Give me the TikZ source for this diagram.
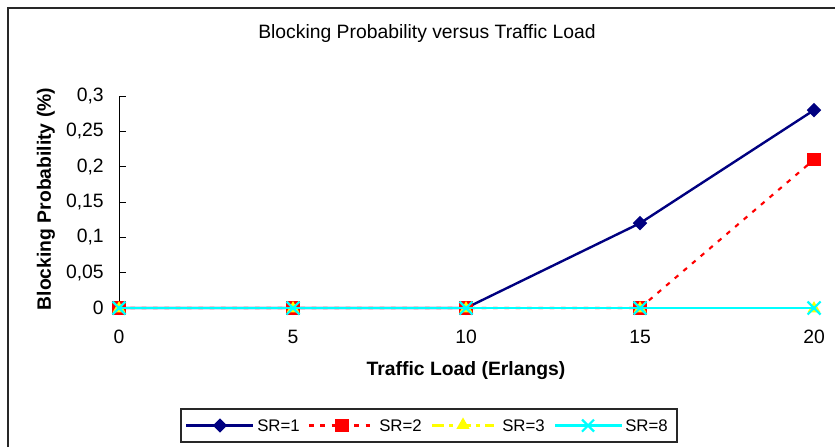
\documentclass[tikz,border=0pt]{standalone}
\usepackage{fontspec}
\setmainfont{Liberation Sans}
\usetikzlibrary{shapes.geometric}
\definecolor{navyline}{RGB}{0,0,128}
\definecolor{frame}{RGB}{40,40,40}
\definecolor{srred}{RGB}{255,0,0}
\definecolor{sryellow}{RGB}{255,255,0}
\definecolor{srcyan}{RGB}{0,255,255}
\tikzset{
  lbl/.style={font=\fontsize{14.5}{16}\selectfont, inner sep=0pt},
  leglbl/.style={font=\fontsize{12.6}{14}\selectfont, inner sep=0pt},
  axlabel/.style={font=\bfseries\fontsize{14.5}{16}\selectfont, inner sep=0pt},
  sronestyle/.style={navyline, line width=1.8pt},
  srtwostyle/.style={srred, line width=1.6pt, dash pattern=on 3.5pt off 5pt},
  srthreestyle/.style={sryellow, line width=1.6pt, dash pattern=on 9pt off 4pt on 3pt off 4pt},
  sreightstyle/.style={srcyan, line width=1.6pt},
  mdiamond/.style={diamond, fill=navyline, inner sep=0pt, minimum size=11pt},
  msquare/.style={rectangle, fill=srred, inner sep=0pt, minimum size=9.8pt},
  mtriangle/.style={isosceles triangle, isosceles triangle apex angle=60, shape border rotate=90, fill=sryellow, inner sep=0pt, minimum height=8.5pt},
}
\begin{document}
\begin{tikzpicture}[x=0.75pt,y=-0.75pt]
\useasboundingbox (0,0) rectangle (835,447);
% outer chart frame (open to the right and bottom)
\draw[frame, line width=1.4pt] (8,447) -- (8,8) -- (835,8);
% title
\node[lbl] (title) at (427,33) {Blocking Probability versus Traffic Load};
% y axis
\coordinate (ytop) at (119,96);
\coordinate (ybot) at (119,308);
\draw[black, line width=0.6pt] (ytop) -- (ybot);
\foreach \v/\t [count=\i from 0] in {0/0,0.05/{0,05},0.1/{0,1},0.15/{0,15},0.2/{0,2},0.25/{0,25},0.3/{0,3}} {
  \pgfmathsetmacro{\yy}{308-\v*706.7}
  \draw[black, line width=0.6pt] (119,\yy) -- (126,\yy);
  \node[lbl, anchor=east] (yt\i) at (104,\yy) {\t};
}
% x tick labels
\foreach \x/\t [count=\i from 0] in {119/0,293/5,466/10,640/15,814/20} {
  \node[lbl] (xt\i) at (\x,337) {\t};
}
% axis titles
\node[axlabel] (xlab) at (466,371) {Traffic Load (Erlangs)};
\node[axlabel, rotate=90] (ylab) at (46,199) {Blocking Probability (\%)};
% data points
\foreach \x/\n in {119/a,293/b,466/c,640/d,814/e} {
  \coordinate (z\n) at (\x,308);
}
\coordinate (p1d) at (640,223.2);
\coordinate (p1e) at (814,110.1);
\coordinate (p2e) at (814,159.6);
% SR=1
\draw[sronestyle] (za) -- (zb) -- (zc) -- (p1d) -- (p1e);
\foreach \p in {za,zb,zc,p1d,p1e} \node[mdiamond] at (\p) {};
% SR=2
\draw[srtwostyle] (za) -- (zb) -- (zc) -- (zd) -- (p2e);
\foreach \p in {za,zb,zc,zd,p2e} \node[msquare] at (\p) {};
% SR=3
\draw[srthreestyle] (za) -- (ze);
\foreach \p in {za,zb,zc,zd,ze} \node[mtriangle] at ([yshift=-0.5pt]\p) {};
% SR=8
\draw[sreightstyle] (za) -- (ze);
\foreach \p in {za,zb,zc,zd,ze} {
  \draw[srcyan, line width=1.6pt] ([shift={(-6.5,-6.5)}]\p) -- ([shift={(6.5,6.5)}]\p)
    ([shift={(-6.5,6.5)}]\p) -- ([shift={(6.5,-6.5)}]\p);
}
% legend
\node[draw=frame, line width=0.8pt, minimum width=496*0.75pt, minimum height=33*0.75pt, inner sep=0pt] (legend) at (429,425.5) {};
\coordinate (l1a) at (186,425.5); \coordinate (l1b) at (253,425.5);
\coordinate (l2a) at (309,425.5); \coordinate (l2b) at (375,425.5);
\coordinate (l3a) at (432,425.5); \coordinate (l3b) at (494,425.5);
\coordinate (l4a) at (555,425.5); \coordinate (l4b) at (622,425.5);
\draw[sronestyle] (l1a) -- (l1b);
\node[mdiamond] at (220,425.5) {};
\node[leglbl, anchor=west] (leg1) at (257,425.5) {SR=1};
\draw[srtwostyle] (l2a) -- (l2b);
\node[msquare] at (342,425.5) {};
\node[leglbl, anchor=west] (leg2) at (379,425.5) {SR=2};
\draw[srthreestyle] (l3a) -- (l3b);
\node[mtriangle] at (463,425) {};
\node[leglbl, anchor=west] (leg3) at (502,425.5) {SR=3};
\draw[sreightstyle] (l4a) -- (l4b);
\draw[srcyan, line width=1.6pt] (582,419.5) -- (594,431.5) (582,431.5) -- (594,419.5);
\node[leglbl, anchor=west] (leg4) at (625,425.5) {SR=8};
\end{tikzpicture}
\end{document}
